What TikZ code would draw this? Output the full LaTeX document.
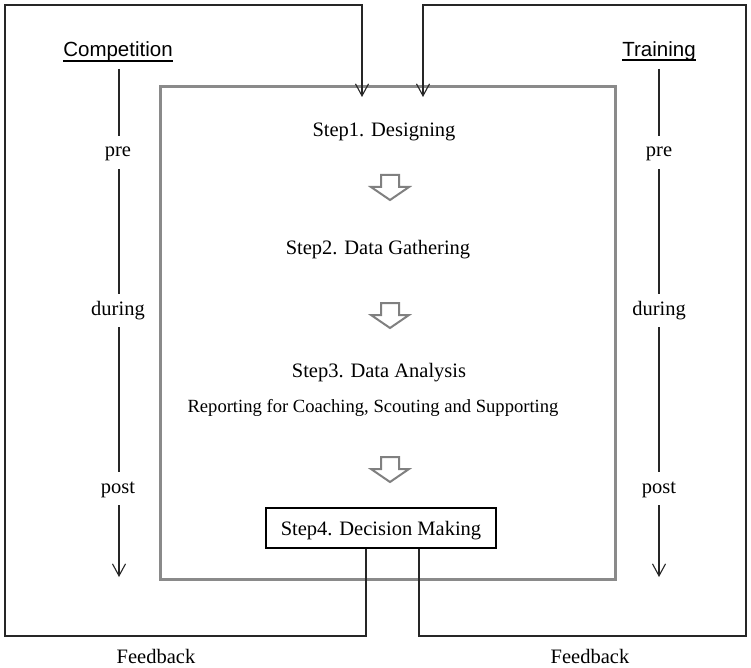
\documentclass[tikz,border=0pt]{standalone}
\usepackage{fontspec}
\setmainfont{Liberation Serif}
\newfontfamily\arialfont{Liberation Sans}
\usetikzlibrary{arrows.meta}
\definecolor{boxgray}{HTML}{8A8A8A}
\definecolor{arrgray}{HTML}{808080}
\begin{document}
\begin{tikzpicture}[x=1pt,y=-1pt,
  conn/.style={line width=1.1pt, black!85},
  vtip/.style={-{Straight Barb[length=12pt,width=13pt,line width=1.1pt]}},
  steptext/.style={font=\fontsize{20.5}{24}\selectfont, inner sep=0pt, anchor=base},
  subtext/.style={font=\fontsize{18.6}{22}\selectfont, inner sep=0pt, anchor=base},
  phase/.style={font=\fontsize{20.5}{24}\selectfont, fill=white, inner sep=7pt, text height=14pt, text depth=5pt, anchor=base},
  headtext/.style={font=\arialfont\fontsize{20.5}{24}\selectfont, inner sep=0pt, anchor=base},
  blockarrow/.style={draw=arrgray, line width=2pt, line join=miter},
  downarrow/.pic={\draw[blockarrow] (-9,0) -- (9,0) -- (9,12) -- (19,12) -- (0,25) -- (-19,12) -- (-9,12) -- cycle;},
]
\useasboundingbox (0,0) rectangle (751,668);

% main gray box
\node (mainbox) [draw=boxgray, line width=3pt, minimum width=455pt, minimum height=492pt, inner sep=0pt] at (387.5,333) {};

% step texts
\node (s1) [steptext] at (384,137) {Step1. Designing};
\pic at (390,175) {downarrow};
\node (s2) [steptext] at (378,254) {Step2. Data Gathering};
\pic at (390,303) {downarrow};
\node (s3) [steptext] at (379,377) {Step3. Data Analysis};
\node (s3b) [subtext] at (373,412) {Reporting for Coaching, Scouting and Supporting};
\pic at (390,457) {downarrow};
\node (s4) [draw=black, line width=2.5pt, minimum width=230pt, minimum height=40pt, inner sep=0pt,
  font=\fontsize{20.5}{24}\selectfont, text height=17pt, text depth=3pt] at (381,528) {Step4. Decision Making};

% headings
\node (comp) [headtext] at (118,57) {Competition};
\draw[line width=1.3pt] (comp.west |- 0,61) -- (comp.east |- 0,61);
\node (train) [headtext] at (659,57) {Training};
\draw[line width=1.3pt] (train.west |- 0,60) -- (train.east |- 0,60);

% phase arrows
\coordinate (cl0) at (119,69);
\coordinate (cl1) at (119,577);
\draw[conn,vtip] (cl0) -- (cl1);
\coordinate (tr0) at (659,69);
\coordinate (tr1) at (659,577);
\draw[conn,vtip] (tr0) -- (tr1);
\node (lpre) [phase] at (118,157) {pre};
\node (ldur) [phase] at (118,315) {during};
\node (lpost) [phase] at (118,493) {post};
\node (rpre) [phase] at (659,157) {pre};
\node (rdur) [phase] at (659,315) {during};
\node (rpost) [phase] at (659,493) {post};

% feedback loops
\coordinate (l1) at (366,636);
\coordinate (l2) at (5,636);
\coordinate (l3) at (5,5);
\coordinate (l4) at (362,5);
\coordinate (l5) at (362,97);
\draw[conn,vtip] (s4.south -| l1) -- (l1) -- (l2) -- (l3) -- (l4) -- (l5);
\coordinate (r1) at (419,636);
\coordinate (r2) at (746,636);
\coordinate (r3) at (746,5);
\coordinate (r4) at (423,5);
\coordinate (r5) at (423,97);
\draw[conn,vtip] (s4.south -| r1) -- (r1) -- (r2) -- (r3) -- (r4) -- (r5);

\node (fbl) [steptext] at (156,663) {Feedback};
\node (fbr) [steptext] at (590,663) {Feedback};
\end{tikzpicture}
\end{document}
